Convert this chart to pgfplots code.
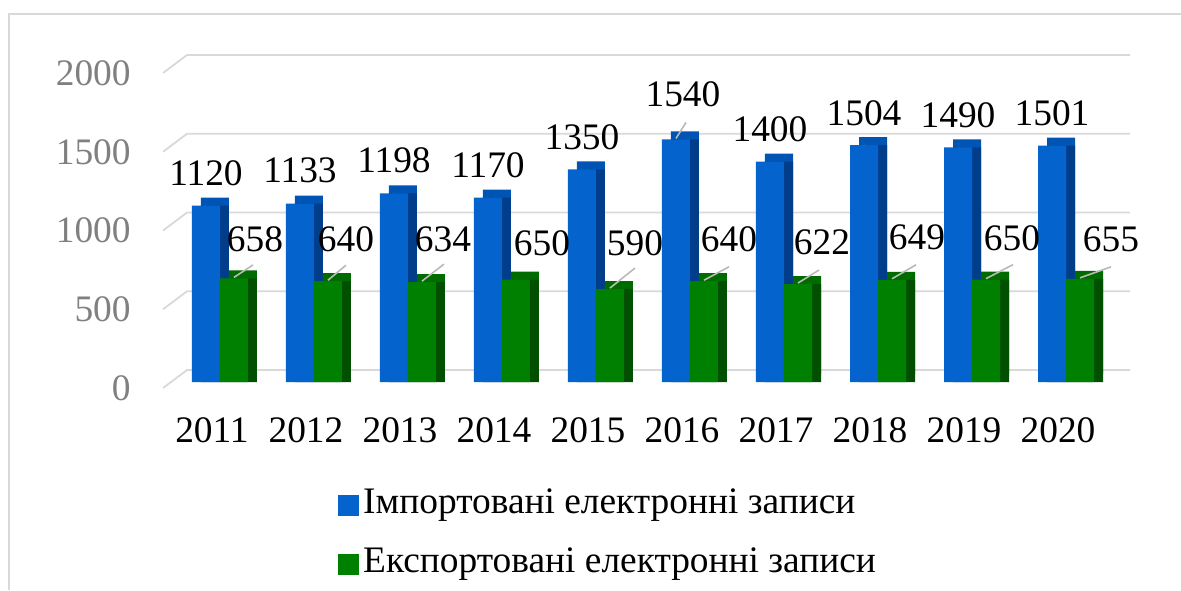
\documentclass[border=0pt]{standalone}
\usepackage{fontspec}
\setmainfont{Liberation Serif}
\usepackage{pgfplots}
\usepackage{pgfplotstable}
\pgfplotsset{compat=1.18}
\definecolor{bluefront}{RGB}{5,99,205}
\definecolor{bluetop}{RGB}{0,84,180}
\definecolor{blueside}{RGB}{0,62,140}
\definecolor{greenfront}{RGB}{0,128,0}
\definecolor{greentop}{RGB}{0,108,0}
\definecolor{greenside}{RGB}{0,80,0}
\definecolor{gridcol}{RGB}{217,217,217}
\definecolor{framecol}{RGB}{217,217,217}
\definecolor{leadcol}{RGB}{185,185,185}
\definecolor{ticklabelgray}{RGB}{128,128,128}
\newcommand{\chartfont}{\fontsize{18.7}{22}\selectfont}
\newcommand{\lbl}{\tikz[baseline=0pt]{\path (0pt,0pt);
  \draw[overlay, leadcol, line width=0.8pt, draw opacity=\Op] (0pt,0.5pt) -- (\Ex pt,\Ey pt);
  \node[overlay, anchor=base, inner sep=0pt, text=black, fill=none, draw=none] at (\Lx pt,\Ly pt) {\pgfmathprintnumber{\pgfplotspointmeta}};}}

\pgfplotstableread{
x imp ilx ily iex iey iop exp glx gly gex gey gop
0 1120 0   10   0 0   0 658 10.5 13.3 9.5  6.7  1
1 1133 0   10.5 0 0   0 640 9    14.7 9    8    1
2 1198 0   10.5 0 0   0 634 10.5 15.5 11   9    1
3 1170 0   10   0 0   0 650 13   12   0    0    0
4 1350 0   10   0 0   0 590 12.5 17   12.5 10.5 1
5 1540 3.5 16.5 5 8.5 1 640 12.5 15   12.5 7.2  1
6 1400 0   10   0 0   0 622 12   14.8 10.5 7    1
7 1504 0   10   0 0   0 649 12.5 14.9 12   7.5  1
8 1490 0   10   0 0   0 650 13   14.8 13.5 7.5  1
9 1501 0   10   0 0   0 655 15.5 13.9 15.5 6    1
}\data

\begin{document}
\begin{tikzpicture}
\useasboundingbox (0,0) rectangle (590.5pt,295pt);
\draw[framecol, line width=1pt] (4.5pt,0pt) -- (4.5pt,288pt) -- (590.5pt,288pt);
\begin{axis}[
  at={(81.5pt,104pt)}, anchor=south west,
  scale only axis, width=483.5pt, height=157.5pt,
  xmin=-0.606, xmax=9.681, ymin=0, ymax=2000,
  clip=false,
  axis line style={draw=none},
  tick style={draw=none},
  xtick={0,1,2,3,4,5,6,7,8,9},
  xticklabels={2011,2012,2013,2014,2015,2016,2017,2018,2019,2020},
  ytick={0,500,1000,1500,2000},
  /pgf/number format/.cd, 1000 sep={}, assume math mode=true, /pgfplots/.cd,
  xticklabel style={font=\chartfont, inner sep=0pt, anchor=north, yshift=-13.5pt, xshift=-4pt},
  yticklabel style={font=\chartfont, text=ticklabelgray, inner sep=0pt, anchor=east, xshift=-16pt, yshift=-3pt},
  ybar, bar width=14pt,
  every node near coord/.style={anchor=center, inner sep=0pt, font=\chartfont, text=black},
  legend style={at={(axis description cs:0.181,-0.335)}, anchor=north west, draw=none, fill=none,
    inner sep=0pt, font=\chartfont, row sep=12.5pt,
    nodes={text height=13pt, text depth=4pt, inner ysep=0pt, inner xsep=2pt}},
  legend cell align=left,
]
\pgfplotsinvokeforeach{0,500,1000,1500,2000}{
  \draw[gridcol, line width=0.9pt] ([yshift=-3pt]axis cs:-0.606,#1) -- ([xshift=12pt,yshift=6pt]axis cs:-0.606,#1) -- ([yshift=6pt]axis cs:9.681,#1);
}
% imports: top, side, front
\addplot[forget plot, fill=bluetop, draw=none, bar shift=-7pt, xshift=4.5pt, yshift=4pt] table[x=x,y=imp]{\data};
\addplot[forget plot, fill=blueside, draw=none, bar shift=-7pt, xshift=4.5pt] table[x=x,y=imp]{\data};
\addplot[forget plot, fill=bluefront, draw=none, bar shift=-7pt,
  every node near coord/.append style={xshift=-7pt},
  visualization depends on={\thisrow{ilx} \as \Lx},
  visualization depends on={\thisrow{ily} \as \Ly},
  visualization depends on={\thisrow{iex} \as \Ex},
  visualization depends on={\thisrow{iey} \as \Ey},
  visualization depends on={\thisrow{iop} \as \Op},
  nodes near coords={\lbl}] table[x=x,y=imp]{\data};
% exports: top, side, front
\addplot[forget plot, fill=greentop, draw=none, bar shift=7pt, xshift=4.5pt, yshift=4pt] table[x=x,y=exp]{\data};
\addplot[forget plot, fill=greenside, draw=none, bar shift=7pt, xshift=4.5pt] table[x=x,y=exp]{\data};
\addplot[forget plot, fill=greenfront, draw=none, bar shift=7pt,
  every node near coord/.append style={xshift=7pt},
  visualization depends on={\thisrow{glx} \as \Lx},
  visualization depends on={\thisrow{gly} \as \Ly},
  visualization depends on={\thisrow{gex} \as \Ex},
  visualization depends on={\thisrow{gey} \as \Ey},
  visualization depends on={\thisrow{gop} \as \Op},
  nodes near coords={\lbl}] table[x=x,y=exp]{\data};
\addlegendimage{legend image code/.code={\fill[bluefront] (0pt,-5pt) rectangle (10pt,5pt);}}
\addlegendentry{Імпортовані електронні записи}
\addlegendimage{legend image code/.code={\fill[greenfront] (0pt,-5pt) rectangle (10pt,5pt);}}
\addlegendentry{Експортовані електронні записи}
\end{axis}
\end{tikzpicture}
\end{document}
